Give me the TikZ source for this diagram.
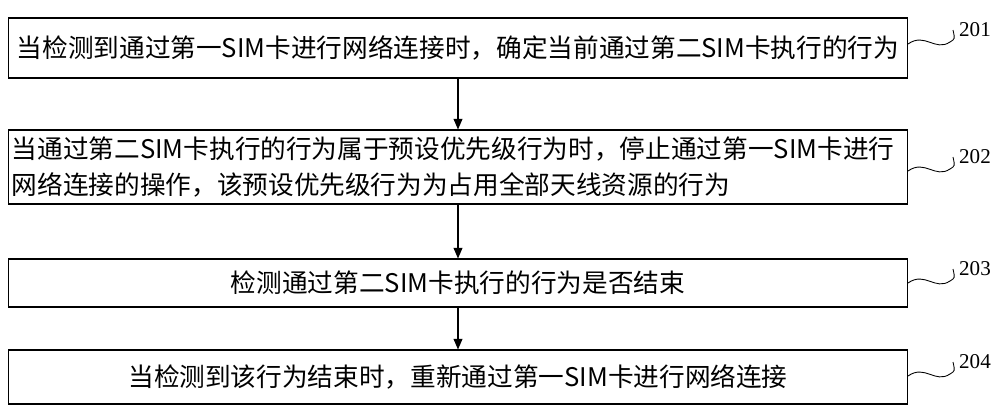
\documentclass[tikz,border=0pt]{standalone}
\usepackage{fontspec}
\setmainfont{Liberation Serif}
\newfontfamily\cjk{Noto Sans CJK SC}
\usetikzlibrary{arrows.meta, positioning}
\tikzset{
  stepbox/.style={draw, line width=0.6pt, minimum width=18cm, font=\cjk\fontsize{14.6}{21}\selectfont, inner sep=0pt},
  flow/.style={-{Triangle[length=6pt,width=5pt]}, line width=0.6pt},
  tag/.style={font=\fontsize{12}{13}\selectfont}
}
\begin{document}
\begin{tikzpicture}[x=0.02cm, y=-0.02cm]
  \useasboundingbox (0,0) rectangle (1000,417);

  % the four steps
  \node[stepbox, minimum height=1.2cm] (box1) at (458,48) {当检测到通过第一SIM卡进行网络连接时，确定当前通过第二SIM卡执行的行为};
  \node[stepbox, minimum height=1.48cm, text width=17.85cm, align=left] (box2) at (458,167)
    {当通过第二SIM卡执行的行为属于预设优先级行为时，停止通过第一SIM卡进行\\网络连接的操作，该预设优先级行为为占用全部天线资源的行为};
  \node[stepbox, minimum height=0.96cm] (box3) at (458,283) {检测通过第二SIM卡执行的行为是否结束};
  \node[stepbox, minimum height=1.08cm] (box4) at (458,377) {当检测到该行为结束时，重新通过第一SIM卡进行网络连接};

  \draw[flow] (box1) -- (box2);
  \draw[flow] (box2) -- (box3);
  \draw[flow] (box3) -- (box4);

  % step numbers with wavy leaders
  \foreach \n/\yy in {201/30, 202/157, 203/269, 204/362} {
    \node[tag] (t\n) at (975,\yy) {\n};
    \coordinate (s\n) at (908,\yy+14);
    \draw[line width=0.5pt] (s\n) .. controls (925,\yy+2) and (935,\yy+22) .. (950,\yy+12)
      .. controls (955,\yy+9) .. (t\n.west);
  }
\end{tikzpicture}
\end{document}
